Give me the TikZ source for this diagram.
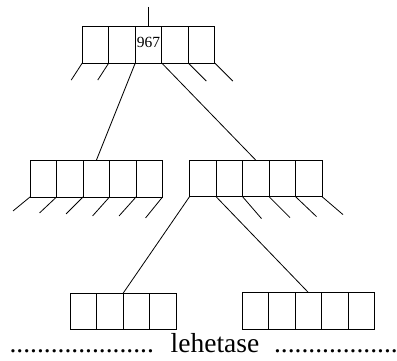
\documentclass[tikz,border=0pt]{standalone}
\usepackage{fontspec}
\setmainfont{Liberation Serif}
\tikzset{
  cell/.style={draw, rectangle, minimum width=26.5pt, minimum height=36.5pt,
    inner sep=0pt, outer sep=0pt},
  keytext/.style={inner sep=0pt, font=\fontsize{15.5}{15.5}\selectfont},
  lbl/.style={inner sep=0pt, font=\fontsize{27.5}{30}\selectfont}
}
\begin{document}
\begin{tikzpicture}[x=1pt, y=-1pt, line width=0.8pt]
      \useasboundingbox (0,0) rectangle (397,361);
      % pages
      \foreach \i in {1,...,5}
        \node[cell] (r\i) at (95.5+26.5*\i-26.5, 44.8) {};
      \foreach \i in {1,...,5}
        \node[cell] (a\i) at (43.3+26.5*\i-26.5, 178.7) {};
      \foreach \i in {1,...,5}
        \node[cell] (b\i) at (202.8+26.5*\i-26.5, 178.4) {};
      \foreach \i in {1,...,4}
        \node[cell] (c\i) at (83.3+26.5*\i-26.5, 311.6) {};
      \foreach \i in {1,...,5}
        \node[cell] (d\i) at (255.6+26.5*\i-26.5, 311) {};
      \node[keytext] (key) at ([yshift=2.5pt]r3.center) {967};
      \coordinate (top) at (148.5,7);
      \begin{scope}[-]
        \draw (top) to (r3.north);
        \draw (r3.south west) to (a3.north);
        \draw (r4.south west) to (b3.north);
        \draw (b1.south west) to (c2.north east);
        \draw (b2.south west) to (d3.north);
        % empty pointers
        \draw (r1.south west) -- ++(-11,17);
        \draw (r2.south west) -- ++(-11,17);
        \draw (r5.south west) -- ++(18,18);
        \draw (r5.south east) -- ++(18,18);
        \foreach \i/\d in {1/14, 2/16, 3/17, 4/19, 5/19}
          \draw (a\i.south west) -- ++(-17,\d);
        \draw (a5.south east) -- ++(-17,21);
        \draw (b3.south west) -- ++(19,22);
        \draw (b4.south west) -- ++(21,21);
        \draw (b5.south west) -- ++(21,20);
        \draw (b5.south east) -- ++(21,18);
      \end{scope}
      % caption line
      \node[lbl, anchor=base] (word) at (215,352) {lehetase};
      \node[lbl, anchor=base east] (dotsl) at ([xshift=-16pt]word.base west) {.....................};
      \node[lbl, anchor=base west] (dotsr) at ([xshift=14pt]word.base east) {..................};
    \end{tikzpicture}
\end{document}
